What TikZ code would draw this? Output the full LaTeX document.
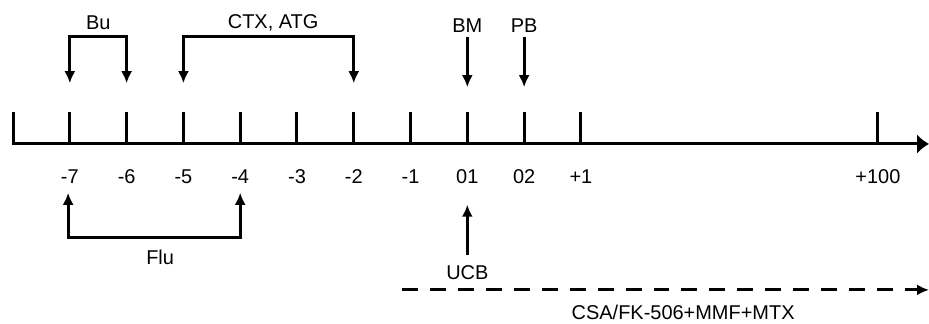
\documentclass[tikz,border=0pt]{standalone}
\usepackage{fontspec}
\setmainfont{Liberation Sans}
\usetikzlibrary{arrows.meta}
\tikzset{>={Latex[length=6pt,width=5.5pt]}}
\tikzset{
  lbl/.style={font=\fontsize{10}{12}\selectfont,inner sep=0pt},
  bar/.style={line width=1.5pt},
  later/.style={bar,dash pattern=on 8pt off 6pt},
}

\begin{document}
\begin{tikzpicture}
            \draw[draw=none,use as bounding box] (-0.23,-3.17) rectangle (16.13,2.535);
            % time axis
            \coordinate (t0) at (0,0);
            \coordinate (tend) at (16.13,0);
            \draw[bar,-{Latex[length=6pt,width=10pt]}] (0,0.563) -- (t0) -- (tend);
            \foreach \x/\t [count=\i] in {1/-7,2/-6,3/-5,4/-4,5/-3,6/-2,7/-1,8/01,9/02,10/+1,15.23/+100}{
                \coordinate (t\i) at (\x,0);
                \draw[bar] (t\i) -- ++(0,0.563);
                \node[lbl] (n\i) at (\x,-0.58) {\t};
            }
            % above the axis
            \node[lbl] (bu) at (1.5,2.13) {Bu};
            \node[lbl] (ctx) at (4.58,2.13) {CTX, ATG};
            \node[lbl] (bm) at (8,2.08) {BM};
            \node[lbl] (pb) at (9,2.08) {PB};
            \coordinate (bu1) at (1,1.07);
            \coordinate (bu2) at (2,1.07);
            \coordinate (ctx1) at (3,1.07);
            \coordinate (ctx2) at (6,1.07);
            \coordinate (bmtip) at (8,1.0);
            \coordinate (pbtip) at (9,1.0);
            \draw[bar,<->] (bu1) |- (1.5,1.9) -| (bu2);
            \draw[bar,<->] (ctx1) |- (4.5,1.9) -| (ctx2);
            \draw[bar,->] ([yshift=-2pt]bm.south) -- (bmtip);
            \draw[bar,->] ([yshift=-2pt]pb.south) -- (pbtip);
            % below the axis
            \node[lbl] (flu) at (2.59,-1.99) {Flu};
            \node[lbl] (ucb) at (8,-2.26) {UCB};
            \node[lbl] (csa) at (11.8,-2.97) {CSA/FK-506+MMF+MTX};
            \coordinate (flu1) at (0.97,-0.86);
            \coordinate (flu2) at (4,-0.86);
            \coordinate (ucbtip) at (8,-1.07);
            \draw[bar,<->] (flu1) |- (2.5,-1.65) -| (flu2);
            \draw[bar,->] ([yshift=5pt]ucb.north) -- (ucbtip);
            \coordinate (csa1) at (6.85,-2.57);
            \coordinate (csa2) at (16.13,-2.57);
            \draw[later,->] (csa1) -- (csa2);
        \end{tikzpicture}
\end{document}
